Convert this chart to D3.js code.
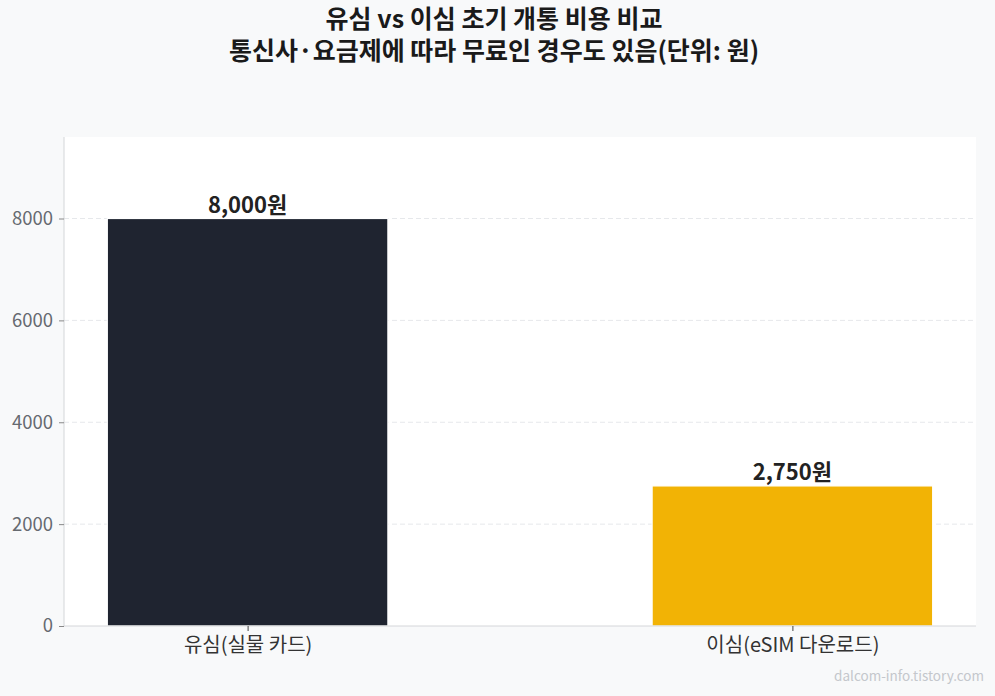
<!DOCTYPE html>
<html>
<head>
<meta charset="utf-8">
<script src="https://cdn.jsdelivr.net/npm/d3@7"></script>
<style>
  body { margin: 0; background: #f8f9fa; }
  svg { display: block; font-family: "Noto Sans CJK KR", "Noto Sans", sans-serif; }
</style>
</head>
<body>
<svg id="chart" width="995" height="696"></svg>
<script>
// chart data
var categories = ["유심(실물 카드)", "이심(eSIM 다운로드)"];
var costs = [8000, 2750];
var valueLabels = ["8,000원", "2,750원"];
var yTicks = [0, 2000, 4000, 6000, 8000];
var titleLines = ["유심 vs 이심 초기 개통 비용 비교", "통신사·요금제에 따라 무료인 경우도 있음(단위: 원)"];

var colors = ["#1f2430", "#f2b305"];
var dim = { left: 64, right: 976, top: 137, bottom: 626 };

var svg = d3.select("#chart");

svg.append("rect")
   .attr("width", 995).attr("height", 696)
   .attr("fill", "#f8f9fa");

// plot area
svg.append("rect")
   .attr("x", dim.left).attr("y", dim.top)
   .attr("width", dim.right - dim.left).attr("height", dim.bottom - dim.top)
   .attr("fill", "#ffffff");

var xScale = d3.scalePoint()
               .domain(categories)
               .range([dim.left, dim.right])
               .padding(0.337);
var yScale = d3.scaleLinear()
               .domain([0, 9600])
               .range([dim.bottom, dim.top]);
var barW = xScale.step() * 0.515;

// grid
svg.append("g")
   .selectAll("line")
   .data(yTicks.filter(function(d) { return d > 0; }))
   .enter().append("line")
   .attr("x1", dim.left).attr("x2", dim.right)
   .attr("y1", function(d) { return yScale(d); })
   .attr("y2", function(d) { return yScale(d); })
   .attr("stroke", "#e6e8eb")
   .attr("stroke-width", 1)
   .attr("stroke-dasharray", "5,3");

// bars
svg.append("g")
   .selectAll("rect")
   .data(costs)
   .enter().append("rect")
   .attr("x", function(d, i) { return xScale(categories[i]) - barW / 2; })
   .attr("y", function(d) { return yScale(d); })
   .attr("width", barW)
   .attr("height", function(d) { return yScale(0) - yScale(d); })
   .attr("fill", function(d, i) { return colors[i]; })
   .attr("stroke", "#ffffff")
   .attr("stroke-width", 1.2);

// value labels
svg.append("g")
   .selectAll("text")
   .data(costs)
   .enter().append("text")
   .attr("x", function(d, i) { return xScale(categories[i]); })
   .attr("y", function(d) { return yScale(d) - 6; })
   .attr("text-anchor", "middle")
   .attr("font-size", 22)
   .attr("font-weight", "bold")
   .attr("fill", "#222222")
   .text(function(d, i) { return valueLabels[i]; });

// y axis
var yAxis = svg.append("g")
   .attr("transform", "translate(" + dim.left + ",0)")
   .call(d3.axisLeft(yScale).tickValues(yTicks).tickFormat(d3.format("d")).tickSize(5).tickPadding(6));
yAxis.select(".domain").attr("stroke", "#d4d6d9").attr("d", "M0," + dim.top + "V" + dim.bottom);
yAxis.selectAll(".tick line").attr("stroke", "#888888");
yAxis.selectAll(".tick text")
     .style("font-size", "18.5px").attr("fill", "#666a70")
     .style("font-family", "'Noto Sans CJK KR', sans-serif");

// x axis
var xAxis = svg.append("g")
   .attr("transform", "translate(0," + dim.bottom + ")")
   .call(d3.axisBottom(xScale).tickSize(5).tickPadding(7));
xAxis.select(".domain").attr("stroke", "#d4d6d9").attr("d", "M" + dim.left + ",0H" + dim.right);
xAxis.selectAll(".tick line").attr("stroke", "#444444");
xAxis.selectAll(".tick text")
     .style("font-size", "20px").attr("fill", "#333333")
     .style("font-family", "'Noto Sans CJK KR', sans-serif");

// title (one text, two lines)
svg.append("text")
   .attr("x", 494)
   .attr("y", 28)
   .attr("text-anchor", "middle")
   .attr("font-size", 25)
   .attr("font-weight", "bold")
   .attr("fill", "#1a1a1a")
   .selectAll("tspan")
   .data(titleLines)
   .enter().append("tspan")
   .attr("x", 494)
   .attr("dy", function(d, i) { return i == 0 ? 0 : 32; })
   .text(function(d) { return d; });

// watermark
svg.append("text")
   .attr("x", 984).attr("y", 681)
   .attr("text-anchor", "end")
   .attr("font-size", 13.5)
   .attr("fill", "#c4c7cc")
   .attr("font-family", "'Noto Sans CJK KR', sans-serif")
   .text("dalcom-info.tistory.com");
</script>
</body>
</html>
